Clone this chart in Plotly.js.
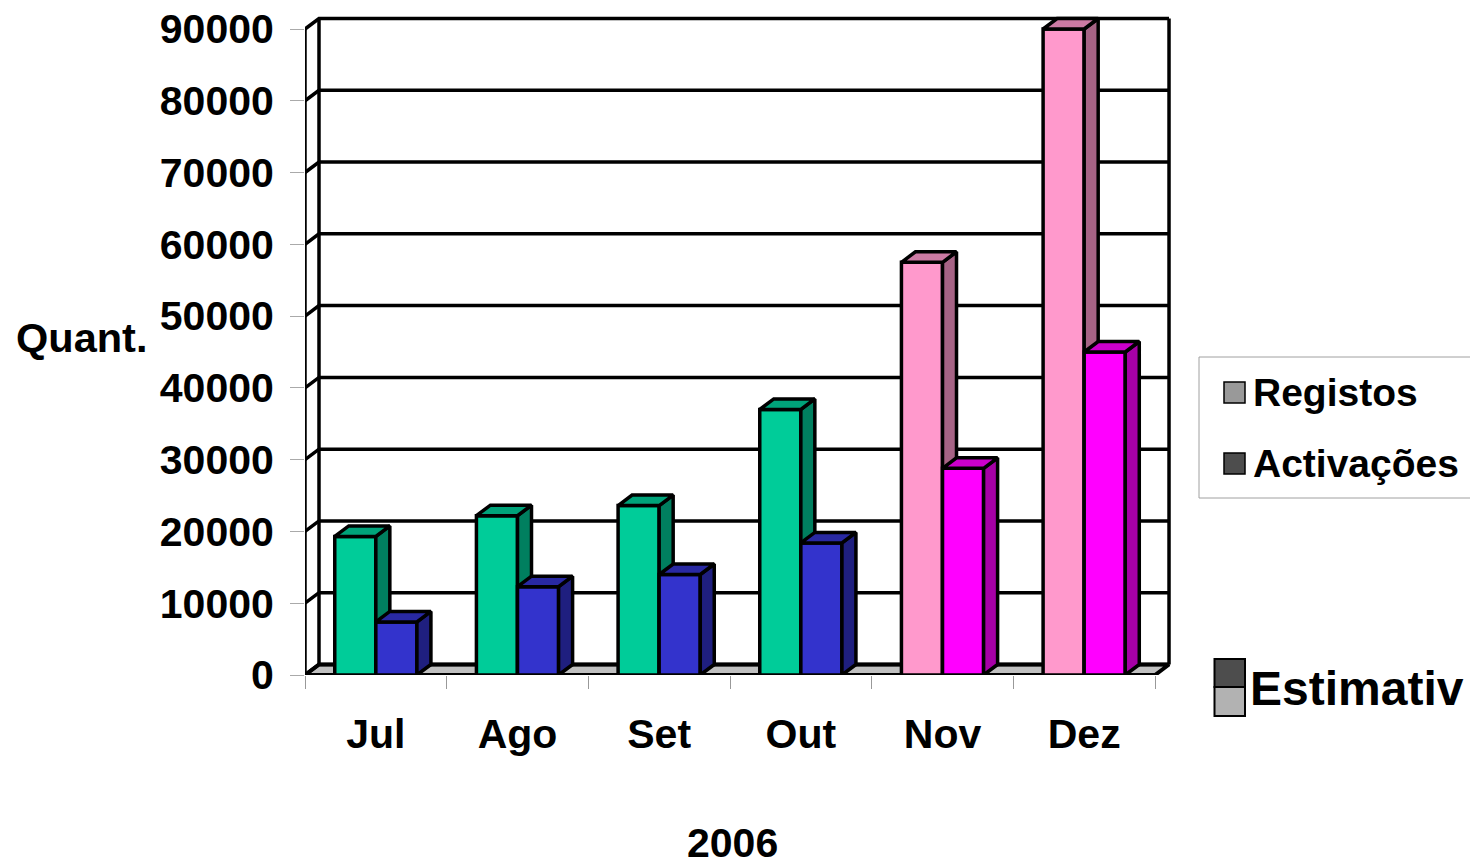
<!DOCTYPE html>
<html>
<head>
<meta charset="utf-8">
<script src="https://cdn.plot.ly/plotly-3.0.1.min.js"></script>
<style>html,body{margin:0;padding:0;background:#fff;overflow:hidden}#chart{width:1470px;height:861px}</style>
</head>
<body>
<div id="chart"></div>
<script>
const months = ['Jul','Ago','Set','Out','Nov','Dez'];
const registos = [19300,22200,23600,37000,57500,90000];
const activacoes = [7400,12300,14000,18400,28800,45000];
const registosFront = ['#00CC99','#00CC99','#00CC99','#00CC99','#FF99CC','#FF99CC'];
const registosTop   = ['#00A37A','#00A37A','#00A37A','#00A37A','#CC7AA3','#CC7AA3'];
const registosSide  = ['#007F5F','#007F5F','#007F5F','#007F5F','#A66385','#A66385'];
const activFront = ['#3333CC','#3333CC','#3333CC','#3333CC','#FF00FF','#FF00FF'];
const activTop   = ['#2929A3','#2929A3','#2929A3','#2929A3','#CC00CC','#CC00CC'];
const activSide  = ['#1F1F7F','#1F1F7F','#1F1F7F','#1F1F7F','#A600A6','#A600A6'];
const yTicks = [0,10000,20000,30000,40000,50000,60000,70000,80000,90000];
const legendNames = ['Registos','Activações'];
const legendGreys = ['#999999','#4D4D4D'];
const noteName = 'Estimativ';
const noteGreys = ['#4D4D4D','#B2B2B2'];

const L=305, T=12, R=1175, B=675, W=1470, H=861;
const xMax=(R-L)/141.67, yMax=(B-T)/646*90000, dx=0.0988, dy=1463, barW=0.29;
const px=x=>(x-L)/(R-L), py=y=>(B-y)/(B-T);
const font=(size)=>({family:'"Liberation Sans", Arial, sans-serif',size:size,color:'#000',weight:700});

function faces(vals,colsTop,colsSide,off,xa,ya){
  const out=[];
  vals.forEach((v,i)=>{
    const x0=i+0.5+off, x1=x0+barW;
    out.push({type:'scatter',mode:'lines',xaxis:xa,yaxis:ya,cliponaxis:false,hoverinfo:'skip',showlegend:false,
      x:[x1,x1+dx,x1+dx,x1,x1],y:[0,dy,v+dy,v,0],fill:'toself',fillcolor:colsSide[i],line:{color:'#000',width:3.5}});
    out.push({type:'scatter',mode:'lines',xaxis:xa,yaxis:ya,cliponaxis:false,hoverinfo:'skip',showlegend:false,
      x:[x0,x0+dx,x1+dx,x1,x0],y:[v,v+dy,v+dy,v,v],fill:'toself',fillcolor:colsTop[i],line:{color:'#000',width:3.5}});
  });
  return out;
}
function bars(name,vals,cols,off,xa,ya){
  return {type:'bar',name:name,xaxis:xa,yaxis:ya,cliponaxis:false,showlegend:false,
    x:months.map((m,i)=>i+0.5),y:vals,width:barW,offset:off,
    marker:{color:cols,line:{color:'#000',width:3.5}}};
}

// floor, walls and the grid on the back wall, all from the axis values
const floor={type:'scatter',mode:'lines',cliponaxis:false,hoverinfo:'skip',showlegend:false,
  x:[0,dx,6+dx,6,0],y:[0,dy,dy,0,0],fill:'toself',fillcolor:'#C0C0C0',line:{color:'#000',width:4}};
const gx=[],gy=[];
yTicks.forEach(v=>{gx.push(0,dx,6+dx,null);gy.push(v,v+dy,v+dy,null);});
gx.push(0,0,null,dx,dx,null,6+dx,6+dx);
gy.push(0,yTicks[9],null,dy,yTicks[9]+dy,null,dy,yTicks[9]+dy);
const grid={type:'scatter',mode:'lines',cliponaxis:false,hoverinfo:'skip',showlegend:false,
  x:gx,y:gy,line:{color:'#000',width:3.5}};

const traces=[floor,grid,
  ...faces(registos,registosTop,registosSide,-barW,'x2','y2'),
  bars('Registos',registos,registosFront,-barW,'x2','y2'),
  ...faces(activacoes,activTop,activSide,0,'x3','y3'),
  bars('Activações',activacoes,activFront,0,'x3','y3')
];

const ann=(text,x,y,size,xa)=>({text:text,xref:'paper',yref:'paper',x:px(x),y:py(y),xanchor:xa||'left',yanchor:'middle',showarrow:false,font:font(size)});
const rect=(x0,y0,x1,y1,fill,lc,lw)=>({type:'rect',xref:'paper',yref:'paper',x0:px(x0),x1:px(x1),y0:py(y0),y1:py(y1),fillcolor:fill,line:{color:lc,width:lw}});
const hiddenX=(a)=>({overlaying:'x',anchor:a,range:[0,xMax],visible:false,showgrid:false,zeroline:false});
const hiddenY=(a)=>({overlaying:'y',anchor:a,range:[0,yMax],visible:false,showgrid:false,zeroline:false});

const layout={
  width:W,height:H,paper_bgcolor:'#fff',plot_bgcolor:'#fff',showlegend:false,
  margin:{l:L,r:W-R,t:T,b:H-B,pad:0},
  barmode:'overlay',
  xaxis:{range:[0,xMax],tickmode:'array',tickvals:months.map((m,i)=>i+0.5),ticktext:months,ticks:'',
    showgrid:false,zeroline:false,showline:false,tickfont:font(41),ticklabelstandoff:31,
    minor:{tickmode:'array',tickvals:[0,1,2,3,4,5,6],ticks:'outside',ticklen:13,tickcolor:'#999',tickwidth:1,showgrid:false}},
  yaxis:{range:[0,yMax],tickmode:'array',tickvals:yTicks,ticktext:yTicks.map(String),ticks:'outside',ticklen:14,
    tickcolor:'#AAA',tickwidth:1,showgrid:false,zeroline:false,showline:false,tickfont:font(41),ticklabelstandoff:8},
  xaxis2:hiddenX('y2'), yaxis2:hiddenY('x2'),
  xaxis3:hiddenX('y3'), yaxis3:hiddenY('x3'),
  shapes:[
    rect(1199,357,1475,498,'rgba(255,255,255,0)','#A0A0A0',1),
    rect(1224,382,1245,403,legendGreys[0],'#000',1.5),
    rect(1224,453,1245,474,legendGreys[1],'#000',1.5),
    rect(1214.5,659,1245,687,noteGreys[0],'#000',2),
    rect(1214.5,687,1245,716,noteGreys[1],'#000',2)
  ],
  annotations:[
    ann('Quant.',14,337,41.5),
    ann('2006',732,843,41,'center'),
    ann(legendNames[0],1251,392,39),
    ann(legendNames[1],1251,463,39),
    ann(noteName,1248,688,48)
  ]
};
Plotly.newPlot('chart',traces,layout,{displayModeBar:false,staticPlot:true});
</script>
</body>
</html>
